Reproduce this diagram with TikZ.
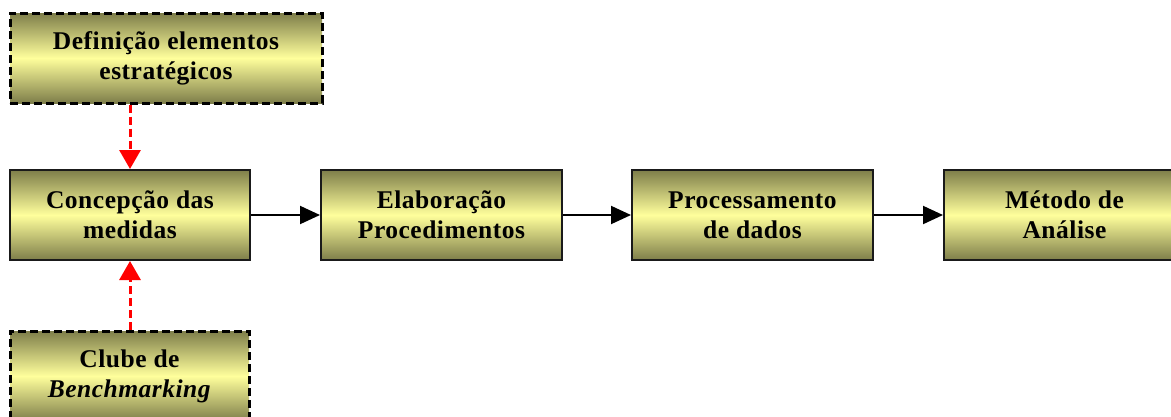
\documentclass[tikz,border=0pt]{standalone}
\usepackage{fontspec}
\setmainfont{Liberation Serif}[LetterSpace=2]
\usepackage{tikz}
\usetikzlibrary{arrows.meta}
\definecolor{olive}{HTML}{7E7E4A}
\definecolor{pale}{HTML}{FFFF9C}
\definecolor{edge}{HTML}{1A1A1A}
\definecolor{redarrow}{HTML}{FF0000}
\tikzset{
  box/.style={draw=edge, line width=2pt, top color=olive, bottom color=olive, middle color=pale,
    shading angle=0, align=center, inner sep=0pt,
    font=\bfseries\fontsize{25.5}{30}\selectfont, text=black},
  input/.style={box, draw=black, line width=3pt, dash pattern=on 8pt off 4pt},
  flow/.style={draw=black, line width=2pt, -{Triangle[length=20pt,width=18pt]}},
  feed/.style={draw=redarrow, line width=3pt, dash pattern=on 8pt off 4pt,
    -{Triangle[length=19pt,width=21pt]}},
}
\begin{document}
\begin{tikzpicture}[x=1pt,y=1pt]
  \useasboundingbox (0,0) rectangle (1171,-416);
  \clip (0,0) rectangle (1171,-416);

  % chain of steps
  \node[box, minimum width=240, minimum height=90] (conc) at (130,-215) {Concepção das\\medidas};
  \node[box, minimum width=241, minimum height=90] (elab) at (441.5,-215) {Elaboração\\Procedimentos};
  \node[box, minimum width=241, minimum height=90] (proc) at (752.5,-215) {Processamento\\de dados};
  \node[box, minimum width=241, minimum height=90] (meto) at (1064.5,-215) {Método de\\Análise};

  % inputs
  \node[input, minimum width=312, minimum height=90] (defi) at (166,-58) {Definição elementos\\estratégicos};
  \node[input, minimum width=239, minimum height=90] (club) at (129.5,-376) {Clube de\\\textit{Benchmarking}};

  \draw[flow] (conc) -- (elab);
  \draw[flow] (elab) -- (proc);
  \draw[flow] (proc) -- (meto);

  \draw[feed] (defi.south -| conc.north) -- (conc.north);
  \draw[feed] (club.north -| conc.south) -- (conc.south);
\end{tikzpicture}
\end{document}
